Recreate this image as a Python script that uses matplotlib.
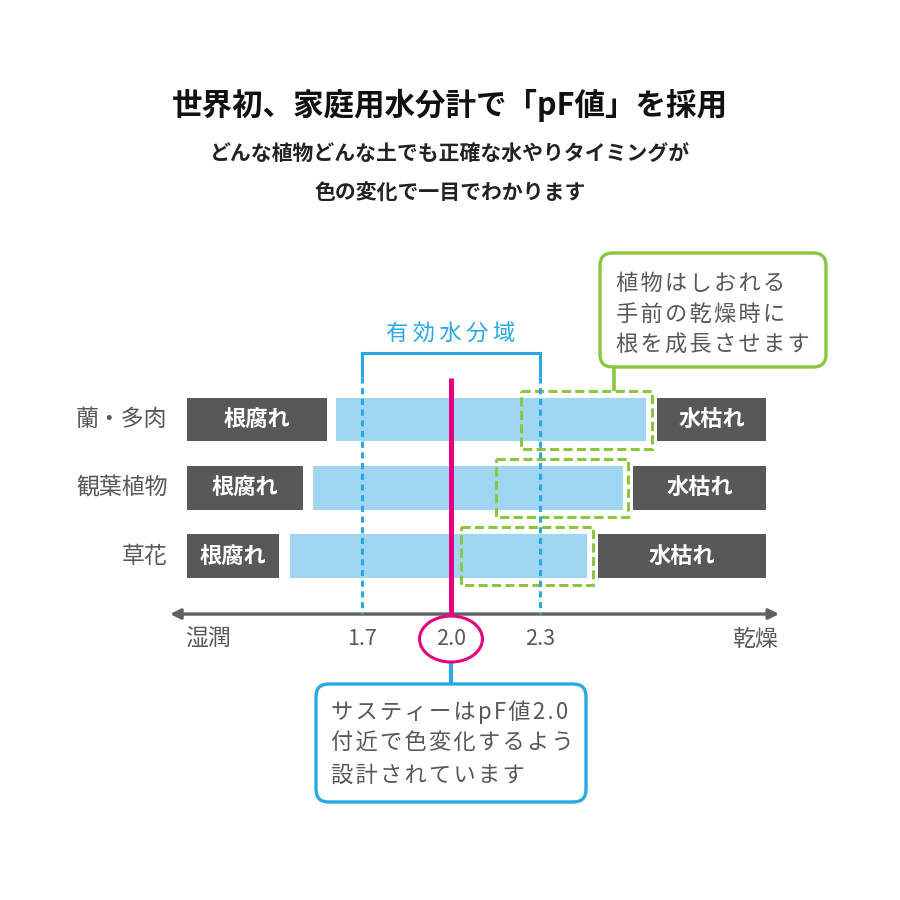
import matplotlib
matplotlib.use('Agg')
import matplotlib.pyplot as plt
from matplotlib.patches import Rectangle, Ellipse, FancyBboxPatch

plt.rcParams['font.family'] = ['Noto Sans CJK JP', 'DejaVu Sans']

# ─────────────────────────────────────────────
# Data (pF scale)
# ─────────────────────────────────────────────
CATEGORIES = ['蘭・多肉', '観葉植物', '草花']
ROT_START = [1.110, 1.110, 1.110]      # 根腐れ
ROT_END = [1.582, 1.501, 1.420]
OK_START = [1.612, 1.535, 1.457]       # light blue range
OK_END = [2.657, 2.580, 2.458]
DRY_START = [2.694, 2.613, 2.496]      # 水枯れ
DRY_END = [3.062, 3.062, 3.062]
ROOT_START = [2.236, 2.152, 2.034]     # dashed root growth zone
ROOT_END = [2.678, 2.597, 2.479]

EFFECTIVE = [1.7, 2.3]
SUSTEE_PF = 2.0
TICKS = [1.7, 2.0, 2.3]
TICK_LABELS = ['1.7', '2.0', '2.3']
AXIS_RANGE = [1.053, 3.106]
AXIS_ENDS = ['湿潤', '乾燥']

TITLE = '世界初、家庭用水分計で「pF値」を採用'
SUBTITLE = ['どんな植物どんな土でも正確な水やりタイミングが', '色の変化で一目でわかります']
RANGE_LABEL = '有効水分域'
GREEN_NOTE = ['植物はしおれる', '手前の乾燥時に', '根を成長させます']
BLUE_NOTE = ['サスティーはpF値2.0', '付近で色変化するよう', '設計されています']

# ─────────────────────────────────────────────
# Colours
# ─────────────────────────────────────────────
DARK = '#595757'
LIGHT_BLUE = '#9fd6f4'
BLUE = '#29a9e1'
GREEN = '#8cc63f'
MAGENTA = '#e4007f'
TEXT = '#595757'


def spaced(s, sep='\u2009'):
    return sep.join(s)


def fx(px):
    return px / 900.0


def fy(py):
    return 1 - py / 900.0


fig = plt.figure(figsize=(9, 9), dpi=100)
fig.patch.set_facecolor('white')

# main axes: x in pF, y in row index (inverted)
ax = fig.add_axes([0, 0, 1, 1])
ax.set_xlim(0.4798, 3.5135)
ax.set_ylim(7.040, -6.147)
ax.axis('off')

rows = list(range(len(CATEGORIES)))
bar_h = 0.637

for i in rows:
    ax.barh(i, ROT_END[i] - ROT_START[i], left=ROT_START[i], height=bar_h,
            color=DARK, zorder=2)
    ax.barh(i, OK_END[i] - OK_START[i], left=OK_START[i], height=bar_h,
            color=LIGHT_BLUE, zorder=2)
    ax.barh(i, DRY_END[i] - DRY_START[i], left=DRY_START[i], height=bar_h,
            color=DARK, zorder=2)
    ax.text((ROT_START[i] + ROT_END[i]) / 2, i, '根腐れ', color='white',
            fontsize=16, fontweight='bold', ha='center', va='center', zorder=5)
    ax.text((DRY_START[i] + DRY_END[i]) / 2, i, '水枯れ', color='white',
            fontsize=16, fontweight='bold', ha='center', va='center', zorder=5)
    ax.text(ROT_START[i] - 0.066, i, CATEGORIES[i], color=TEXT,
            fontsize=16.5, ha='right', va='center')
    ax.add_patch(Rectangle((ROOT_START[i], i - 0.425), ROOT_END[i] - ROOT_START[i], 0.85,
                           fill=False, ec=GREEN, lw=2.2, ls=(0, (3.0, 1.4)), zorder=4))

# effective water range bracket
bracket_top = -0.974
solid_end = -0.623
axis_y = 2.850
ax.plot([EFFECTIVE[0], EFFECTIVE[0], EFFECTIVE[1], EFFECTIVE[1]],
        [solid_end, bracket_top, bracket_top, solid_end],
        color=BLUE, lw=2.2, solid_capstyle='butt', solid_joinstyle='miter', zorder=4)
for x in EFFECTIVE:
    ax.plot([x, x], [solid_end, axis_y], color=BLUE, lw=2.2,
            ls=(0, (2.0, 1.5)), zorder=4)
ax.text(sum(EFFECTIVE) / 2, bracket_top - 0.28, spaced(RANGE_LABEL), color=BLUE,
        fontsize=16, ha='center', va='center')

# sustee line
ax.plot([SUSTEE_PF, SUSTEE_PF], [-0.608, axis_y], color=MAGENTA, lw=3.6,
        solid_capstyle='butt', zorder=5)

# horizontal axis arrow
ax.annotate('', xy=(AXIS_RANGE[1], axis_y), xytext=(AXIS_RANGE[0], axis_y),
            arrowprops=dict(arrowstyle='<|-|>,head_length=0.6,head_width=0.3',
                            color='#606060', lw=2.4, shrinkA=0, shrinkB=0), zorder=3)

label_y = 3.216
for t, lab in zip(TICKS, TICK_LABELS):
    ax.text(t, label_y, lab, color=TEXT, fontsize=15.5, ha='center', va='center')
ax.text(AXIS_RANGE[0] + 0.05, label_y, AXIS_ENDS[0], color=TEXT, fontsize=16.5,
        ha='left', va='center')
ax.text(AXIS_RANGE[1] - 0.005, label_y, AXIS_ENDS[1], color=TEXT, fontsize=16.5,
        ha='right', va='center')

# circle around 2.0
ax.add_patch(Ellipse((SUSTEE_PF, label_y), 0.212, 0.674, fill=False,
                     ec=MAGENTA, lw=2.2, zorder=5))

# connector to blue note
ax.plot([SUSTEE_PF, SUSTEE_PF], [label_y + 0.337, 3.861], color=BLUE, lw=3,
        solid_capstyle='butt', zorder=4)
# connector to green note
ax.plot([2.549, 2.549], [-0.755, -0.425], color=GREEN, lw=2.6,
        solid_capstyle='butt', zorder=4)

# ─────────────────────────────────────────────
# Callout boxes & titles (figure coords)
# ─────────────────────────────────────────────
green_box = FancyBboxPatch((fx(600), fy(367)), fx(826) - fx(600), fy(253) - fy(367),
                           boxstyle='round,pad=0,rounding_size=0.014',
                           transform=fig.transFigure, fc='white', ec=GREEN, lw=2.4,
                           zorder=6)
fig.patches.append(green_box)
for k, line in enumerate(GREEN_NOTE):
    fig.text(fx(616), fy(283 + k * 31), spaced(line, '\u200a'), color=TEXT,
             fontsize=16, ha='left', va='center', zorder=7)

blue_box = FancyBboxPatch((fx(316), fy(802)), fx(586) - fx(316), fy(684) - fy(802),
                          boxstyle='round,pad=0,rounding_size=0.014',
                          transform=fig.transFigure, fc='white', ec=BLUE, lw=2.4,
                          zorder=6)
fig.patches.append(blue_box)
for k, line in enumerate(BLUE_NOTE):
    fig.text(fx(331), fy(712 + k * 31.5), spaced(line, '\u200a'), color=TEXT,
             fontsize=16, ha='left', va='center', zorder=7)

fig.text(0.5, fy(105), TITLE, color='#111111', fontsize=22, fontweight='bold',
         ha='center', va='center')
fig.text(0.5, fy(154), SUBTITLE[0], color='#222222', fontsize=15, fontweight='bold',
         ha='center', va='center')
fig.text(0.5, fy(193), SUBTITLE[1], color='#222222', fontsize=15, fontweight='bold',
         ha='center', va='center')

fig.savefig('out.png', dpi=100, facecolor='white')
